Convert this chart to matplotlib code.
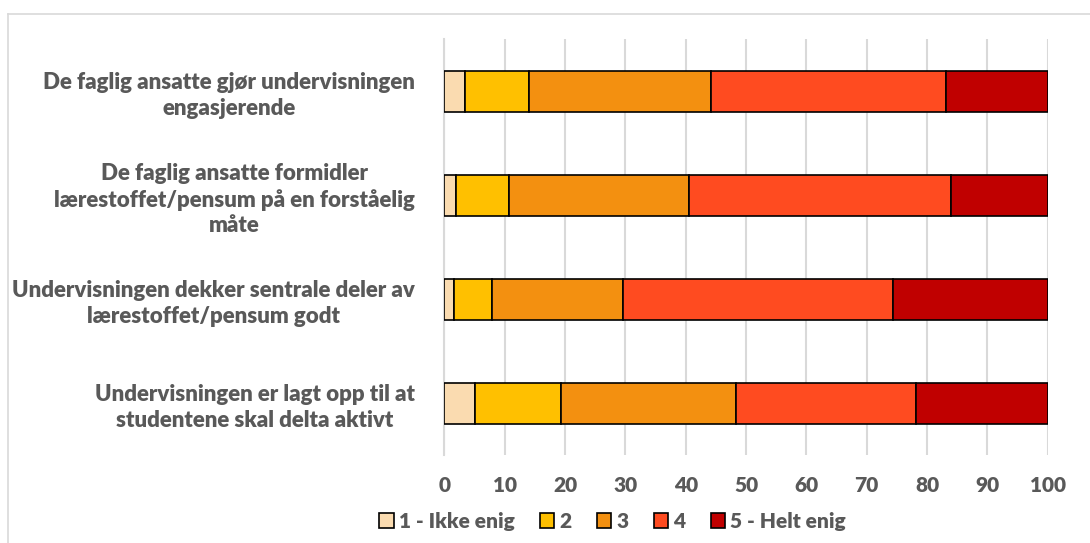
import matplotlib
matplotlib.use("Agg")
import matplotlib.pyplot as plt
from matplotlib.lines import Line2D
import numpy as np

plt.rcParams["font.family"] = ["Lato", "DejaVu Sans"]
plt.rcParams["font.weight"] = "bold"

CATEGORIES = [
    "De faglig ansatte gjør undervisningen\nengasjerende",
    "De faglig ansatte formidler\nlærestoffet/pensum på en forståelig\nmåte",
    "Undervisningen dekker sentrale deler av\nlærestoffet/pensum godt",
    "Undervisningen er lagt opp til at\nstudentene skal delta aktivt",
]
SERIES = ["1 - Ikke enig", "2", "3", "4", "5 - Helt enig"]
ikke_enig = [3.4, 1.9, 1.6, 5.1]
s2 = [10.6, 8.9, 6.3, 14.3]
s3 = [30.2, 29.8, 21.7, 29.0]
s4 = [39.0, 43.3, 44.7, 29.8]
helt_enig = [16.8, 16.1, 25.7, 21.8]
COLORS = ["#FADBB0", "#FFC000", "#F39010", "#FF4B20", "#C00000"]
XTICKS = list(range(0, 101, 10))

TEXT = "#595959"

fig = plt.figure(figsize=(10.9, 5.43), dpi=100)
ax = fig.add_axes([0.4076, 0.1615, 0.9612 - 0.4076, 0.9273 - 0.1615])

y = np.arange(len(CATEGORIES))
left = np.zeros(len(CATEGORIES))
for name, vals, col in zip(SERIES, [ikke_enig, s2, s3, s4, helt_enig], COLORS):
    ax.barh(y, vals, left=left, height=0.4, color=col, edgecolor="black",
            linewidth=1.2, label=name, zorder=3)
    left += np.array(vals)

ax.set_xlim(0, 100)
ax.set_ylim(len(CATEGORIES) - 0.5, -0.5)
ax.set_xticks(XTICKS)
ax.set_yticks(y)
ax.set_yticklabels(CATEGORIES, fontsize=16, color=TEXT, fontweight="heavy")
for t in ax.get_yticklabels():
    t.set_multialignment("center")
    t.set_linespacing(1.25)
ax.tick_params(axis="y", length=0, pad=21)
ax.tick_params(axis="x", length=0, pad=15, labelsize=15, labelcolor=TEXT)
for t in ax.get_xticklabels():
    t.set_fontweight("heavy")

ax.grid(axis="x", color="#D9D9D9", linewidth=1.5, zorder=0)
for s in ["top", "right", "bottom"]:
    ax.spines[s].set_visible(False)
ax.spines["left"].set_color("#D9D9D9")
ax.spines["left"].set_linewidth(1.5)

leg = fig.legend(loc="center", bbox_to_anchor=(0.562, 0.04), ncol=5, frameon=False,
                 prop={"size": 15, "weight": "heavy"}, handlelength=0.7, handleheight=0.7,
                 handletextpad=0.25, columnspacing=1.2, labelcolor=TEXT)

# chart area border (top and left edges visible)
fig.add_artist(Line2D([8 / 1090, 1.0], [1 - 13.5 / 543] * 2, color="#D9D9D9", linewidth=1.2))
fig.add_artist(Line2D([8 / 1090] * 2, [0, 1 - 13.5 / 543], color="#D9D9D9", linewidth=1.2))

fig.savefig("out.png", dpi=100)
